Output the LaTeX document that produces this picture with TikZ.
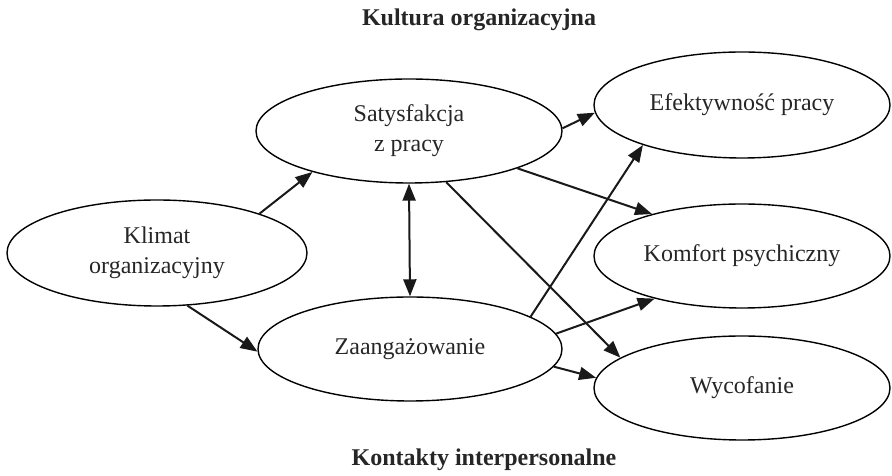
\documentclass[tikz,border=0pt]{standalone}
\usepackage{fontspec}
\setmainfont{Liberation Serif}
\usetikzlibrary{arrows.meta,shapes.geometric}
\begin{document}
\begin{tikzpicture}[x=1pt,y=1pt,
  ell/.style={draw, ellipse, line width=1.4pt, inner sep=0pt, align=center,
    font=\fontsize{24}{30}\selectfont, text=black!85},
  ttl/.style={font=\fontsize{24}{30}\selectfont\bfseries, text=black!85},
  tip/.tip={Triangle[length=17pt,width=13pt]},
  arr/.style={-tip, line width=2pt, draw=black!90},
  darr/.style={tip-tip, line width=2pt, draw=black!90}]
\useasboundingbox (0,0) rectangle (892,476);
\node[ell, minimum width=300pt, minimum height=106pt] (K) at (157,223) {Klimat\\organizacyjny};
\node[ell, minimum width=306pt, minimum height=104pt] (S) at (409,345) {Satysfakcja\\z pracy};
\node[ell, minimum width=304pt, minimum height=104pt] (Z) at (410,127) {Zaangażowanie};
\node[ell, minimum width=296pt, minimum height=106pt] (E) at (742,371) {Efektywność pracy};
\node[ell, minimum width=296pt, minimum height=104pt] (C) at (742,220) {Komfort psychiczny};
\node[ell, minimum width=296pt, minimum height=104pt] (W) at (742,88) {Wycofanie};
\node[ttl] (T1) at (479,456) {Kultura organizacyjna};
\node[ttl] (T2) at (484,16) {Kontakty interpersonalne};
\draw[arr] (K.21) -- (S.203);
\draw[arr] (K.-60) -- (Z.181);
\draw[darr] (S.south) -- (Z.north);
\draw[arr] (S.1.5) -- (E.183);
\draw[arr] (S.-19.7) -- (C.155.7);
\draw[arr] (S.-54.4) -- (W.166.2);
\draw[arr] (Z.15.9) -- (E.202.2);
\draw[arr] (Z.6.2) -- (C.206.6);
\draw[arr] (Z.-7.8) -- (W.176.8);
\end{tikzpicture}
\end{document}
